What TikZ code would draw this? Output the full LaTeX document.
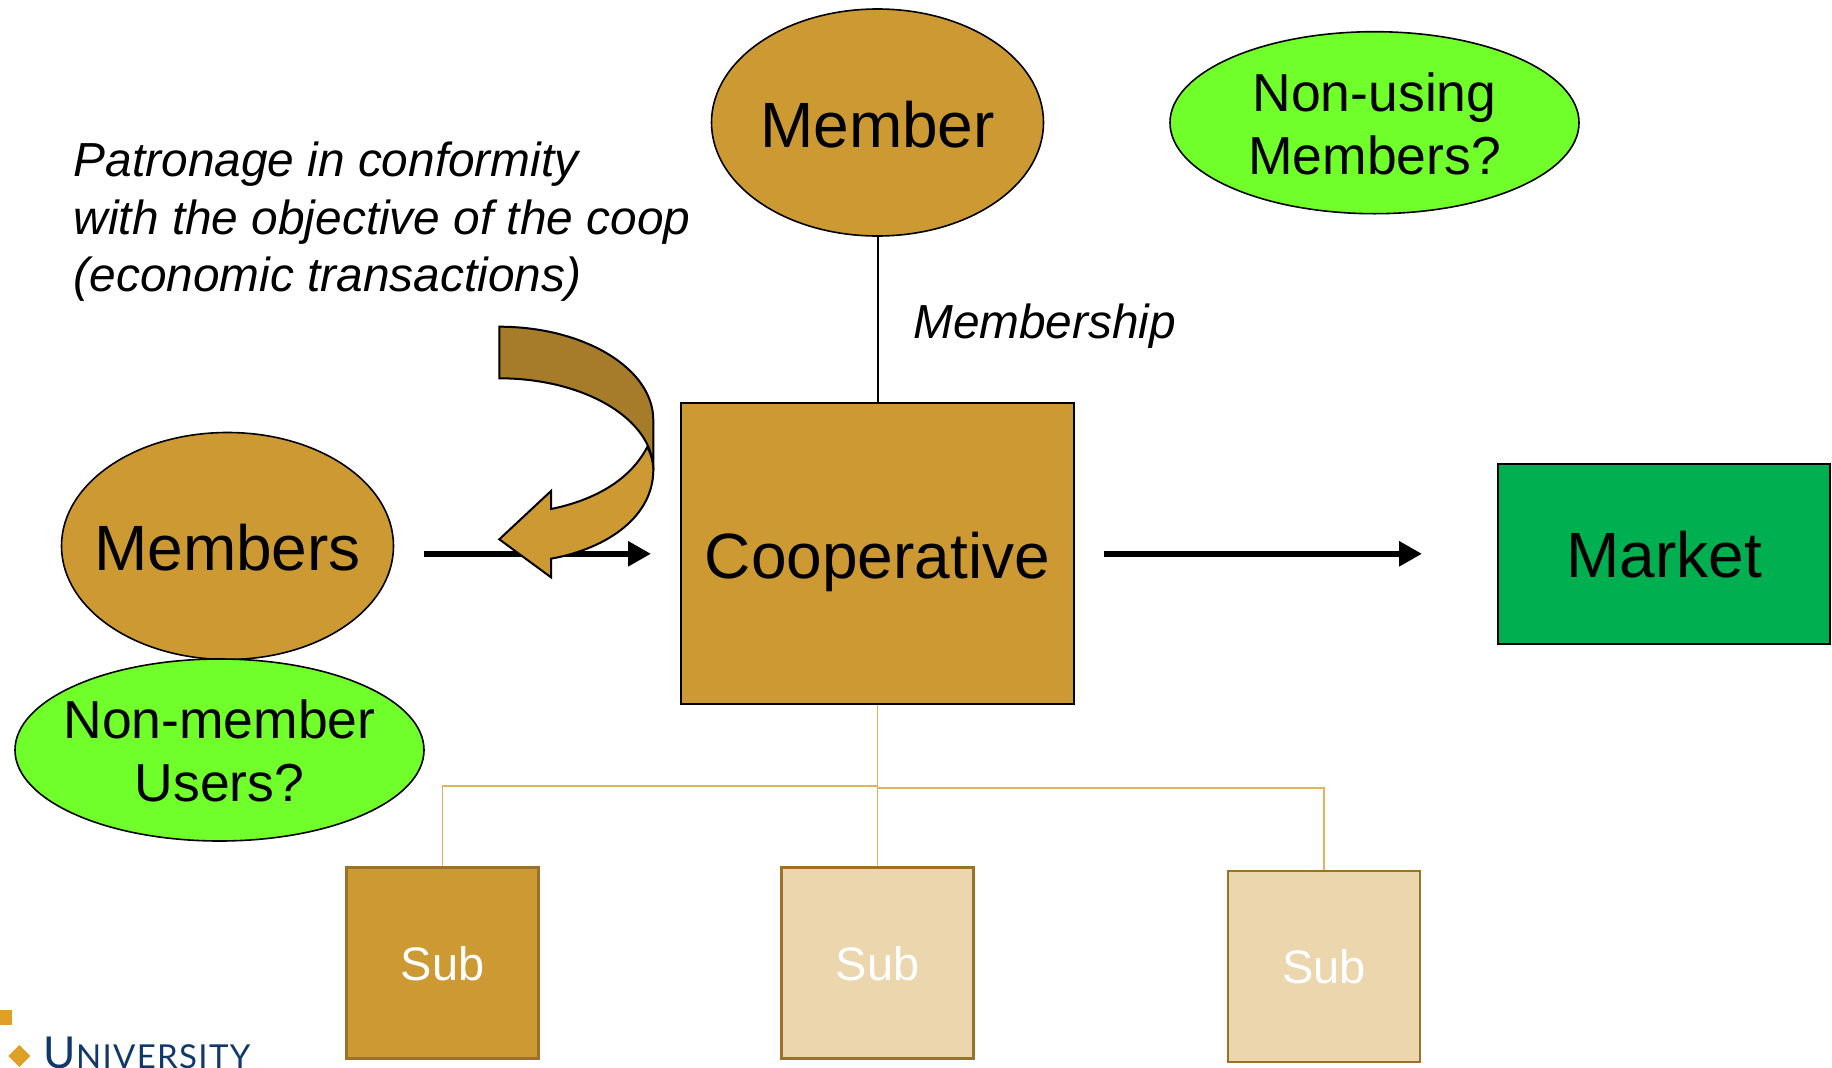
\documentclass[tikz,border=0pt]{standalone}
\usepackage{fontspec}
\setmainfont{Liberation Sans}
\newfontfamily\logofont[LetterSpace=4]{Lato}
\usetikzlibrary{shapes.geometric,arrows.meta}
\definecolor{bronze}{HTML}{CC9933}
\definecolor{darkbronze}{HTML}{A67C2B}
\definecolor{palebronze}{HTML}{EBD6AE}
\definecolor{subedge}{HTML}{9C7228}
\definecolor{limefill}{HTML}{70FF2B}
\definecolor{marketgreen}{HTML}{00B050}
\definecolor{linkgold}{HTML}{E0B45C}
\definecolor{logogold}{HTML}{E09F27}
\definecolor{logonavy}{HTML}{12386B}
\newcommand{\lowered}[2]{\raisebox{-#1bp}[\height][\depth]{#2}}
\tikzset{
  x=1bp,y=-1bp,
  oval/.style={ellipse,draw=black,line width=1.6bp,inner xsep=-45bp,inner ysep=-20bp,align=center},
  brown oval/.style={oval,fill=bronze,minimum width=332bp,minimum height=227bp,font=\fontsize{64bp}{70bp}\selectfont},
  lime oval/.style={oval,fill=limefill,minimum width=409bp,minimum height=182bp,font=\fontsize{53.5bp}{63bp}\selectfont},
  subbox/.style={rectangle,draw=subedge,line width=2.3bp,minimum width=192bp,minimum height=191bp,inner sep=0pt,text=white,font=\fontsize{47bp}{50bp}\selectfont},
  note/.style={inner sep=0pt,align=left,anchor=north west,font=\fontsize{47.8bp}{57.8bp}\selectfont\itshape},
  flow/.style={line width=6bp,-{Triangle[length=23bp,width=24bp]}},
  tie/.style={line width=2bp,draw=black},
  goldlink/.style={line width=1.6bp,draw=linkgold},
  band/.style={draw=black,line width=2bp,line join=miter}
}
\begin{document}
\begin{tikzpicture}
\useasboundingbox (0,0) rectangle (1832,1067);
\clip (0,0) rectangle (1832,1067);
% nodes
\node[brown oval] (member) at (877.5,122.5) {\lowered{2.5}{Member}};
\node[lime oval] (nonusing) at (1374.5,122.7) {\lowered{0.8}{Non-using}\\\lowered{0.8}{Members?}};
\node[brown oval] (members) at (227.5,546) {\lowered{2}{Members}};
\node[lime oval] (nonmember) at (219.5,750) {\lowered{0.4}{Non-member}\\\lowered{0.4}{Users?}};
\node[rectangle,draw=black,line width=2bp,fill=bronze,minimum width=393bp,minimum height=301bp,inner sep=0pt,font=\fontsize{64bp}{70bp}\selectfont] (coop) at (877.5,553.8) {\lowered{8}{Cooperative}};
\node[rectangle,draw=black,line width=2bp,fill=marketgreen,minimum width=332bp,minimum height=180bp,inner sep=0pt,font=\fontsize{64bp}{70bp}\selectfont] (market) at (1664,554) {\lowered{0.6}{Market}};
\node[subbox,fill=bronze] (subA) at (442.5,963) {\lowered{0.2}{Sub}};
\node[subbox,fill=palebronze] (subB) at (877.5,963) {\lowered{0.2}{Sub}};
\node[subbox,fill=palebronze] (subC) at (1324,966.5) {\lowered{0.2}{Sub}};
\node[note] (patronage) at (73.6,141.4) {Patronage in conformity\\with the objective of the coop\\(economic transactions)};
\node[note] (membership) at (913,303.5) {Membership};
% connectors
\draw[tie] (member) -- (coop);
\coordinate (jointA) at (877.5,786);
\coordinate (jointC) at (877.5,788);
\draw[goldlink] (coop.south) -- (subB.north);
\draw[goldlink] (jointA) -- (jointA -| subA.north) -- (subA.north);
\draw[goldlink] (jointC) -- (jointC -| subC.north) -- (subC.north);
\coordinate (inA) at (424,553.8);
\coordinate (inB) at (651,553.8);
\coordinate (outA) at (1104,553.8);
\coordinate (outB) at (1422,553.8);
\draw[flow] (inA) -- (inB);
\draw[flow] (outA) -- (outB);
% curved arrow
\draw[band,fill=darkbronze] (499.3,326.7) .. controls (584,326.7) and (653.3,368.5) .. (653.3,420)
  -- (653.3,470) .. controls (653.3,419) and (584,378.3) .. (499.3,378.3) -- cycle;
\draw[band,fill=bronze] (647.3,447) .. controls (651,454) and (653.3,462) .. (653.3,470)
  .. controls (653.3,515) and (610,548) .. (551,558.7)
  -- (551,577.3) -- (499.3,539.3) -- (551,491) -- (551,509)
  .. controls (595,500) and (630,480) .. (647.3,447) -- cycle;
% logo
\fill[logogold] (0,1009.5) rectangle (11.7,1025);
\fill[logogold] (19.3,1045) -- (30.3,1056) -- (19.3,1067) -- (8.3,1056) -- cycle;
\node[inner sep=0pt,anchor=base west,text=logonavy,font=\logofont] (logo) at (43.5,1068) {\fontsize{44bp}{50bp}\selectfont U\fontsize{33bp}{50bp}\selectfont NIVERSITY};
\end{tikzpicture}
\end{document}
